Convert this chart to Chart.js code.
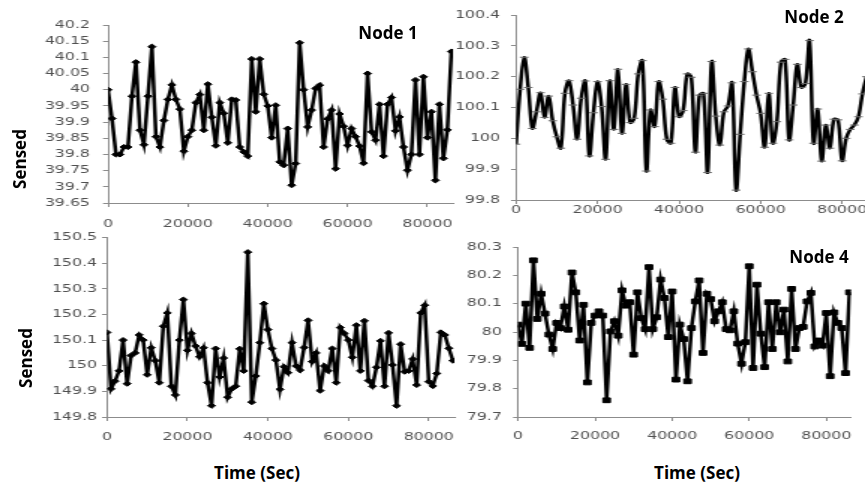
<!DOCTYPE html>
<html>
<head>
<meta charset="utf-8">
<title>Sensed values per node</title>
<script src="https://cdn.jsdelivr.net/npm/chart.js@4.4.1/dist/chart.umd.min.js"></script>
<style>
    html, body { margin: 0; padding: 0; background: #fff; overflow: hidden; }
    body { position: relative; width: 865px; height: 483px; }
    canvas { position: absolute; }
    .lbl {
        position: absolute;
        font-family: 'Open Sans', sans-serif;
        font-weight: 700;
        font-size: 17px;
        line-height: 1;
        color: #000;
        white-space: nowrap;
        transform: translate(-50%, -50%);
    }
    .lbl.rot { transform: translate(-50%, -50%) rotate(-90deg); }
</style>
</head>
<body>
<canvas id="node1" width="314" height="235" style="left:0px;top:0px;width:471px;height:235px"></canvas>
<canvas id="node2" width="296" height="225" style="left:430px;top:0px;width:444px;height:225px"></canvas>
<canvas id="node3" width="314" height="222" style="left:0px;top:228px;width:471px;height:222px"></canvas>
<canvas id="node4" width="290" height="222" style="left:430px;top:228px;width:435px;height:222px"></canvas>

<div class="lbl" style="left:388px;top:32px">Node 1</div>
<div class="lbl" style="left:814px;top:16px">Node 2</div>
<div class="lbl" style="left:819px;top:256px">Node 4</div>
<div class="lbl rot" style="left:19px;top:159px">Sensed</div>
<div class="lbl rot" style="left:25px;top:358px">Sensed</div>
<div class="lbl" style="left:257px;top:472px">Time (Sec)</div>
<div class="lbl" style="left:697px;top:472px">Time (Sec)</div>

<script>
// sample times (seconds), one reading every 1000 s
var times = [
    0, 1000, 2000, 3000, 4000, 5000, 6000, 7000, 8000, 9000,
    10000, 11000, 12000, 13000, 14000, 15000, 16000, 17000, 18000, 19000,
    20000, 21000, 22000, 23000, 24000, 25000, 26000, 27000, 28000, 29000,
    30000, 31000, 32000, 33000, 34000, 35000, 36000, 37000, 38000, 39000,
    40000, 41000, 42000, 43000, 44000, 45000, 46000, 47000, 48000, 49000,
    50000, 51000, 52000, 53000, 54000, 55000, 56000, 57000, 58000, 59000,
    60000, 61000, 62000, 63000, 64000, 65000, 66000, 67000, 68000, 69000,
    70000, 71000, 72000, 73000, 74000, 75000, 76000, 77000, 78000, 79000,
    80000, 81000, 82000, 83000, 84000, 85000, 86000
];

var node1Values = [
    40.0, 39.911, 39.80, 39.80, 39.823, 39.823, 39.98, 40.085, 39.875, 39.83,
    39.98, 40.133, 39.855, 39.823, 39.905, 39.97, 40.015, 39.97, 39.94, 39.81,
    39.855, 39.875, 39.96, 39.985, 39.875, 40.017, 39.915, 39.827, 39.96, 39.927,
    39.836, 39.97, 39.968, 39.823, 39.808, 39.795, 40.095, 39.932, 40.095, 39.986,
    39.95, 39.852, 39.952, 39.777, 39.767, 39.88, 39.705, 39.772, 40.145, 40.0,
    39.885, 39.937, 40.004, 40.014, 39.823, 39.91, 39.937, 39.756, 39.925, 39.887,
    39.828, 39.88, 39.855, 39.826, 39.773, 40.05, 39.87, 39.844, 39.955, 39.795,
    39.955, 39.976, 39.873, 39.916, 39.823, 39.751, 39.80, 40.03, 39.80, 40.04,
    39.852, 39.932, 39.72, 39.955, 39.788, 39.876, 40.118
];

var node2Values = [
    99.981, 100.159, 100.263, 100.165, 100.032, 100.086, 100.148, 100.068, 100.137, 100.057,
    100.005, 99.968, 100.146, 100.187, 100.108, 99.997, 100.13, 100.186, 99.943, 100.083,
    100.184, 100.103, 99.932, 100.187, 100.029, 100.224, 100.016, 100.175, 100.051, 100.065,
    100.209, 100.252, 99.894, 100.092, 100.038, 100.184, 100.127, 99.997, 99.984, 100.165,
    100.07, 100.09, 100.209, 100.198, 99.955, 100.14, 100.146, 99.889, 100.249, 100.072,
    99.978, 100.086, 100.105, 100.18, 99.832, 100.013, 100.184, 100.29, 100.216, 100.14,
    100.081, 99.971, 100.146, 99.984, 100.054, 100.247, 100.256, 99.995, 100.108, 100.24,
    100.165, 100.178, 100.317, 99.984, 100.095, 99.926, 100.043, 99.968, 100.062, 100.06,
    99.927, 100.0, 100.029, 100.043, 100.07, 100.144, 100.2
];

var node3Values = [
    150.13, 149.91, 149.94, 149.98, 150.10, 149.93, 150.04, 150.05, 150.12, 150.10,
    149.965, 150.07, 150.02, 149.934, 150.154, 150.206, 149.92, 149.886, 150.10, 150.258,
    150.06, 150.126, 150.077, 150.035, 150.07, 149.934, 149.844, 150.067, 149.956, 150.03,
    149.877, 149.91, 149.92, 150.066, 149.98, 150.443, 149.858, 149.96, 150.09, 150.242,
    150.141, 150.067, 150.022, 149.908, 149.996, 149.973, 150.09, 149.999, 149.983, 150.071,
    150.177, 150.016, 150.05, 149.903, 149.999, 149.98, 150.067, 149.934, 150.149, 150.126,
    150.10, 150.033, 150.158, 149.98, 150.175, 149.942, 149.92, 149.994, 150.097, 149.92,
    150.128, 150.003, 149.844, 150.084, 149.977, 149.98, 150.026, 149.925, 150.206, 150.236,
    149.938, 149.921, 149.97, 150.13, 150.12, 150.068, 150.02
];

var node4Values = [
    80.026, 79.958, 80.1, 79.944, 80.253, 80.046, 80.135, 80.065, 79.991, 79.94,
    80.032, 80.014, 80.09, 80.008, 80.21, 80.14, 79.97, 80.096, 79.822, 80.032,
    80.058, 80.073, 80.058, 79.759, 80.002, 80.038, 79.987, 80.147, 80.093, 80.105,
    79.92, 80.14, 80.049, 80.01, 80.229, 80.01, 80.052, 80.185, 80.12, 79.982,
    80.143, 79.832, 80.026, 79.975, 79.826, 80.014, 80.108, 80.182, 79.926, 80.135,
    80.116, 80.038, 80.073, 80.105, 80.01, 80.006, 80.073, 79.959, 79.888, 79.964,
    80.232, 79.873, 80.167, 79.994, 79.876, 80.105, 79.94, 80.105, 79.999, 80.079,
    79.896, 80.152, 79.94, 80.014, 80.018, 80.108, 80.138, 79.949, 79.97, 79.952,
    80.067, 79.844, 80.069, 80.032, 80.014, 79.855, 80.14
];

var timeTicks = [0, 20000, 40000, 60000, 80000];
var timeMax = 86400;
var node1Ticks = [39.65, 39.7, 39.75, 39.8, 39.85, 39.9, 39.95, 40, 40.05, 40.1, 40.15, 40.2];
var node2Ticks = [99.8, 99.9, 100, 100.1, 100.2, 100.3, 100.4];
var node3Ticks = [149.8, 149.9, 150, 150.1, 150.2, 150.3, 150.4, 150.5];
var node4Ticks = [79.7, 79.8, 79.9, 80, 80.1, 80.2, 80.3];

(function () {
    'use strict';

    // the canvases are drawn narrow and stretched 1.5x wide by css, like the source image
    var AXIS_COLOR = '#8c8c8c';
    var TICK_COLOR = '#505050';
    var TICK_FONT = { family: "'DejaVu Sans', sans-serif", size: 10.5 };

    function fixedTicks(list) {
        return function (scale) {
            scale.ticks = list.map(function (v) {
                return { value: v };
            });
        };
    }

    function buildConfig(values, yTicks, look, box) {
        var points = times.map(function (t, i) {
            return { x: t, y: values[i] };
        });

        return {
            type: 'line',
            data: {
                datasets: [
                    {
                        data: points,
                        borderColor: '#000',
                        borderWidth: 2.5,
                        tension: look.tension,
                        pointStyle: look.pointStyle,
                        pointRadius: look.radius,
                        pointHoverRadius: look.radius,
                        pointBackgroundColor: '#000',
                        pointBorderColor: look.pointBorder,
                        pointBorderWidth: 1,
                    },
                ],
            },
            options: {
                responsive: false,
                animation: false,
                events: [],
                layout: {
                    padding: { left: 0, top: box.top, right: box.right, bottom: 0 },
                },
                plugins: {
                    legend: { display: false },
                    tooltip: { enabled: false },
                },
                scales: {
                    x: {
                        type: 'linear',
                        min: 0,
                        max: timeMax,
                        afterBuildTicks: fixedTicks(timeTicks),
                        afterFit: function (scale) {
                            scale.height = box.xh;
                        },
                        grid: {
                            drawOnChartArea: false,
                            drawTicks: true,
                            tickLength: 4,
                            color: AXIS_COLOR,
                        },
                        border: { display: true, color: AXIS_COLOR, width: 1 },
                        ticks: {
                            font: TICK_FONT,
                            color: TICK_COLOR,
                            padding: box.xpad,
                            maxRotation: 0,
                            autoSkip: false,
                            callback: function (v) {
                                return String(v);
                            },
                        },
                    },
                    y: {
                        type: 'linear',
                        min: yTicks[0],
                        max: yTicks[yTicks.length - 1],
                        afterBuildTicks: fixedTicks(yTicks),
                        afterFit: function (scale) {
                            scale.width = box.yw;
                        },
                        grid: {
                            drawOnChartArea: false,
                            drawTicks: true,
                            tickLength: 3.3,
                            color: AXIS_COLOR,
                        },
                        border: { display: true, color: AXIS_COLOR, width: 1 },
                        ticks: {
                            font: TICK_FONT,
                            color: TICK_COLOR,
                            padding: box.ypad,
                            autoSkip: false,
                            callback: function (v) {
                                return String(v);
                            },
                        },
                    },
                },
            },
        };
    }

    var diamond = { pointStyle: 'rectRot', radius: 2.6, tension: 0, pointBorder: '#000' };
    var dash = { pointStyle: 'line', radius: 2.9, tension: 0.35, pointBorder: '#6a6a6a' };
    var square = { pointStyle: 'rect', radius: 3.4, tension: 0, pointBorder: '#000' };

    new Chart(document.getElementById('node1'), buildConfig(node1Values, node1Ticks, diamond,
        { top: 25, right: 12, xh: 32, yw: 72, ypad: 8.7, xpad: 10.7 }));
    new Chart(document.getElementById('node2'), buildConfig(node2Values, node2Ticks, dash,
        { top: 15, right: 1.8, xh: 25, yw: 57.33, ypad: 7.3, xpad: 0 }));
    new Chart(document.getElementById('node3'), buildConfig(node3Values, node3Ticks, diamond,
        { top: 9, right: 11, xh: 33, yw: 71.33, ypad: 3.3, xpad: 9.7 }));
    new Chart(document.getElementById('node4'), buildConfig(node4Values, node4Ticks, square,
        { top: 19, right: 5.67, xh: 33, yw: 58.67, ypad: 7.5, xpad: 8.7 }));
})();
</script>
</body>
</html>
